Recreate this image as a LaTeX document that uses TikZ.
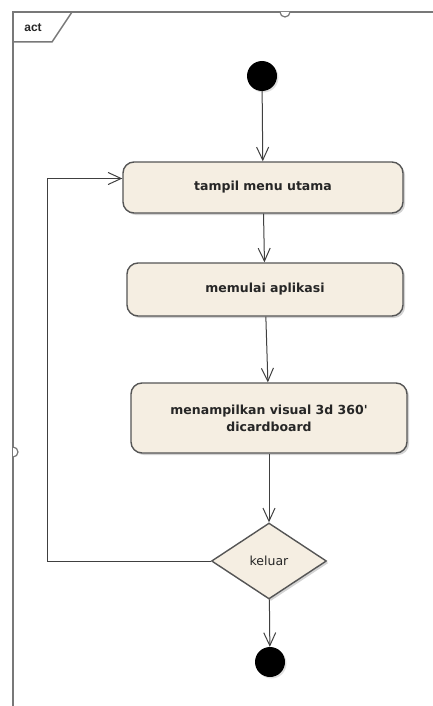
\documentclass[tikz,border=0pt]{standalone}
\usepackage{fontspec}
\setmainfont{Liberation Sans}
\newfontfamily\umlfont{DejaVu Sans}
\usetikzlibrary{arrows.meta,shapes.geometric,shadows}
\definecolor{actfill}{RGB}{245,238,226}
\definecolor{actline}{RGB}{85,85,85}
\definecolor{frameline}{RGB}{120,120,120}
\tikzset{
  action/.style={draw=actline, line width=1.4pt, fill=actfill, rounded corners=11pt,
    font=\umlfont\bfseries\fontsize{12.5}{17}\selectfont, text=black!85, align=center,
    drop shadow={opacity=0.35, shadow xshift=2pt, shadow yshift=-2pt}},
  decision/.style={diamond, draw=actline, line width=1.4pt, fill=actfill, inner sep=0pt,
    font=\umlfont\fontsize{12.5}{16}\selectfont, text=black!85,
    drop shadow={opacity=0.35, shadow xshift=2pt, shadow yshift=-2pt}},
  dot/.style={circle, fill=black, minimum size=30pt, inner sep=0pt,
    drop shadow={opacity=0.25, shadow xshift=1.5pt, shadow yshift=-1.5pt}},
  flow/.style={draw=black!75, line width=1pt, -{Straight Barb[length=13pt,width=12pt]}}
}
\begin{document}
\begin{tikzpicture}[x=1pt,y=-1pt]
\useasboundingbox (0,0) rectangle (433,706);
% frame
\draw[frameline, line width=1.5pt] (13,706) -- (13,12) -- (433,12);
\draw[frameline, line width=1.5pt] (13,42) -- (52,42) -- (72,12);
\draw[frameline, line width=1.2pt, fill=white] (280,12) arc[start angle=180, end angle=0, radius=5];
\draw[frameline, line width=1.2pt, fill=white] (13,447) arc[start angle=270, end angle=450, radius=5];
\node[font=\bfseries\fontsize{12}{14}\selectfont, text=black!85] (act) at (33,28){act};
% nodes
\node[dot] (start) at (262,76){};
\node[action, minimum width=280pt, minimum height=51pt] (menu) at (263,187.5){tampil menu utama};
\node[action, minimum width=276pt, minimum height=53pt] (mulai) at (265,289.5){memulai aplikasi};
\node[action, minimum width=276pt, minimum height=70pt] (visual) at (269,418){menampilkan visual 3d 360\textquotesingle\\dicardboard};
\node[decision, minimum width=115pt, minimum height=76pt] (keluar) at (269,561){keluar};
\node[dot] (stop) at (270,662){};
\coordinate (back) at (47,561);
% edges
\draw[flow](start) -- (menu);
\draw[flow](menu) -- (mulai);
\draw[flow](mulai) -- (visual);
\draw[flow](visual) -- (keluar);
\draw[flow](keluar) -- (stop);
\draw[flow](keluar.west) -- (back) |- ([yshift=9pt]menu.west);
\end{tikzpicture}
\end{document}
